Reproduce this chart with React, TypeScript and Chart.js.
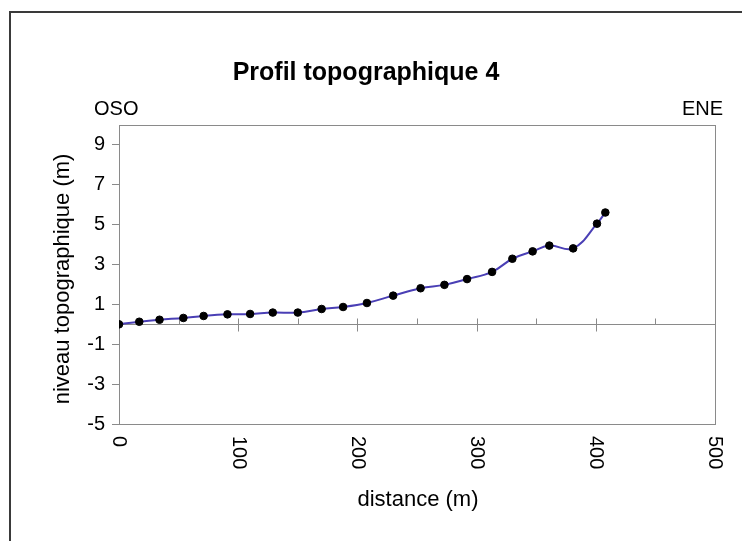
import React, { useEffect, useRef } from "react";
import { Chart, registerables } from "chart.js";

Chart.register(...registerables);

const TITLE = "Profil topographique 4";
const LEFT_LABEL = "OSO";
const RIGHT_LABEL = "ENE";
const X_TITLE = "distance (m)";
const Y_TITLE = "niveau topographique (m)";

const distances = [0, 17, 34, 54, 71, 91, 110, 129, 150, 170, 188, 208, 230, 253, 273, 292, 313, 330, 347, 361, 381, 401, 408];
const levels = [0, 0.13, 0.23, 0.32, 0.42, 0.5, 0.52, 0.59, 0.59, 0.77, 0.87, 1.07, 1.44, 1.81, 1.98, 2.27, 2.63, 3.29, 3.66, 3.95, 3.81, 5.05, 5.61];

const X_MIN = 0;
const X_MAX = 500;
const X_LABEL_TICKS = [0, 100, 200, 300, 400, 500];
const X_MINOR_TICKS = [50, 150, 250, 350, 450];
const Y_MIN = -5;
const Y_MAX = 10;
const Y_TICKS = [-5, -3, -1, 1, 3, 5, 7, 9];

const FONT = "'Liberation Sans', Arial, sans-serif";

const decorPlugin = {
  id: "decor",
  beforeDatasetsDraw(chart: any) {
    const { ctx, chartArea } = chart;
    const xs = chart.scales.x;
    const ys = chart.scales.y;
    ctx.save();
    ctx.strokeStyle = "#8a8a8a";
    ctx.lineWidth = 1;
    ctx.strokeRect(
      Math.round(chartArea.left) + 0.5,
      Math.round(chartArea.top) + 0.5,
      Math.round(chartArea.right - chartArea.left),
      Math.round(chartArea.bottom - chartArea.top)
    );
    const y0 = Math.round(ys.getPixelForValue(0)) + 0.5;
    ctx.beginPath();
    ctx.moveTo(chartArea.left, y0);
    ctx.lineTo(chartArea.right, y0);
    for (const v of X_LABEL_TICKS) {
      const px = Math.round(xs.getPixelForValue(v)) + 0.5;
      ctx.moveTo(px, y0 - 6);
      ctx.lineTo(px, y0 + 7);
    }
    for (const v of X_MINOR_TICKS) {
      const px = Math.round(xs.getPixelForValue(v)) + 0.5;
      ctx.moveTo(px, y0 - 6);
      ctx.lineTo(px, y0);
    }
    ctx.stroke();
    ctx.restore();
  },
  afterDraw(chart: any) {
    const { ctx, chartArea } = chart;
    const xs = chart.scales.x;
    ctx.save();
    ctx.fillStyle = "#000";
    // title
    ctx.font = `bold 25px ${FONT}`;
    ctx.textAlign = "center";
    ctx.textBaseline = "middle";
    ctx.fillText(TITLE, 366, 73);
    // OSO / ENE
    ctx.font = `20px ${FONT}`;
    ctx.textAlign = "left";
    ctx.fillText(LEFT_LABEL, 94, 109);
    ctx.textAlign = "right";
    ctx.fillText(RIGHT_LABEL, 723, 109);
    // x tick labels rotated clockwise
    ctx.font = `20px ${FONT}`;
    ctx.textAlign = "left";
    ctx.textBaseline = "middle";
    for (const v of X_LABEL_TICKS) {
      const px = xs.getPixelForValue(v);
      ctx.save();
      ctx.translate(px, chartArea.bottom + 12);
      ctx.rotate(Math.PI / 2);
      ctx.fillText(String(v), 0, 0);
      ctx.restore();
    }
    // x title
    ctx.font = `22px ${FONT}`;
    ctx.textAlign = "center";
    ctx.fillText(X_TITLE, 418, 500);
    // y title
    ctx.save();
    ctx.translate(63, 279);
    ctx.rotate(-Math.PI / 2);
    ctx.fillText(Y_TITLE, 0, 0);
    ctx.restore();
    ctx.restore();
  },
};

export default function App() {
  const ref = useRef<HTMLCanvasElement | null>(null);
  useEffect(() => {
    if (!ref.current) return;
    const chart = new Chart(ref.current, {
      type: "line",
      data: {
        datasets: [
          {
            data: distances.map((d, i) => ({ x: d, y: levels[i] })),
            borderColor: "#4a3fb5",
            borderWidth: 2,
            tension: 0.4,
            pointRadius: 3.8,
            pointBackgroundColor: "#000",
            pointBorderColor: "#000",
            pointBorderWidth: 1,
            fill: false,
          },
        ],
      },
      options: {
        animation: false,
        responsive: false,
        maintainAspectRatio: false,
        layout: { padding: { left: 0, top: 125, right: 27, bottom: 117 } },
        plugins: { legend: { display: false }, tooltip: { enabled: false }, title: { display: false } },
        scales: {
          x: { type: "linear", min: X_MIN, max: X_MAX, display: false },
          y: {
            type: "linear",
            min: Y_MIN,
            max: Y_MAX,
            afterFit: (s: any) => {
              s.width = 119;
            },
            afterBuildTicks: (s: any) => {
              s.ticks = Y_TICKS.map((v) => ({ value: v }));
            },
            border: { display: false },
            grid: { drawOnChartArea: false, drawTicks: true, tickLength: 7, color: "#8a8a8a" },
            ticks: { color: "#000", padding: 7, font: { family: FONT, size: 20 } },
          },
        },
      },
      plugins: [decorPlugin],
    });
    return () => chart.destroy();
  }, []);
  return (
    <div style={{ position: "fixed", left: 0, top: 0, width: 742, height: 541, background: "#fff" }}>
      <div
        style={{
          position: "absolute",
          left: 9,
          top: 11,
          right: -5,
          bottom: -5,
          borderLeft: "2px solid #3a3a3a",
          borderTop: "2px solid #3a3a3a",
        }}
      />
      <canvas ref={ref} width={742} height={541} style={{ position: "absolute", left: 0, top: 0 }} />
    </div>
  );
}
